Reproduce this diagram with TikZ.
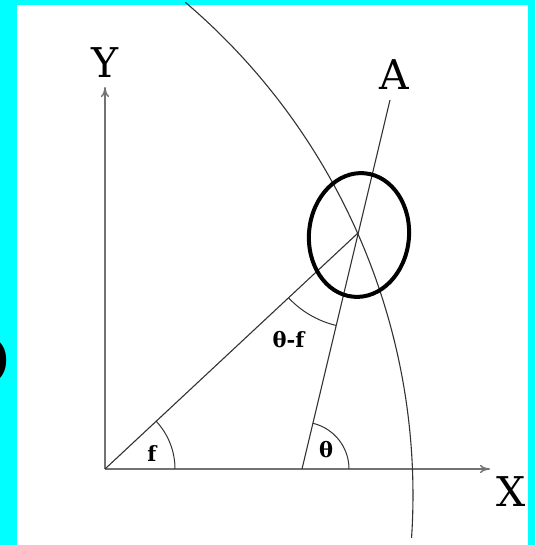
\documentclass[tikz,border=0pt]{standalone}
\usepackage{fontspec}
\setmainfont{DejaVu Serif}
\usetikzlibrary{arrows.meta}
\definecolor{cyanbg}{HTML}{00FFFF}
\begin{document}
\begin{tikzpicture}[x=1pt,y=1pt,
  axisline/.style={draw=black!55, line width=1.4pt, -{To[length=10pt,width=8pt]}},
  thinline/.style={draw=black!80, line width=1.1pt},
  anglearc/.style={draw=black!80, line width=1pt},
  biglabel/.style={font=\fontsize{41}{41}\selectfont, inner sep=0pt},
  smalllabel/.style={font=\fontsize{21}{21}\selectfont\bfseries, inner sep=0pt}]
\useasboundingbox (0,0) rectangle (535,545);
\clip (0,0) rectangle (535,545);
\fill[cyanbg] (0,0) rectangle (535,545);
\fill[white] (17,0) rectangle (528,540);
% partial text at the left edge
\node[font=\fontsize{56}{56}\selectfont\bfseries, anchor=east, inner sep=0pt] (paren) at (12,184) {)};
% points
\coordinate (O) at (105,76);
\coordinate (Ytip) at (105,458);
\coordinate (Xtip) at (490,76);
\coordinate (B) at (302,76);
\coordinate (P) at (358,312);
\coordinate (Atop) at (390,445);
\coordinate (C) at (-234,50);
\coordinate (E) at (359,310);
% axes
\draw[axisline] (O) -- (Ytip);
\draw[axisline] (O) -- (Xtip);
\node[biglabel] (ylab) at (105,482) {Y};
\node[biglabel] (xlab) at (511,53) {X};
\node[biglabel] (alab) at (394,470) {A};
% big arc
\draw[thinline] (C) ++(49.6:647) arc[start angle=49.6, end angle=-3.8, radius=647];
% lines
\draw[thinline] (O) -- (P);
\draw[thinline] (B) -- (Atop);
% ellipse
\draw[line width=4pt, rotate around={-5.5:(E)}] (E) ellipse[x radius=50, y radius=62];
% angle arcs
\draw[anglearc] (O) ++(0:70) arc[start angle=0, end angle=43, radius=70];
\draw[anglearc] (B) ++(0:47) arc[start angle=0, end angle=76.7, radius=47];
\draw[anglearc] (P) ++(223:95) arc[start angle=223, end angle=256.7, radius=95];
% angle labels
\node[smalllabel] (flab) at (152,91) {f};
\node[smalllabel] (thlab) at (326,95.5) {θ};
\node[smalllabel] (thflab) at (288.5,205.5) {θ-f};
\end{tikzpicture}
\end{document}
